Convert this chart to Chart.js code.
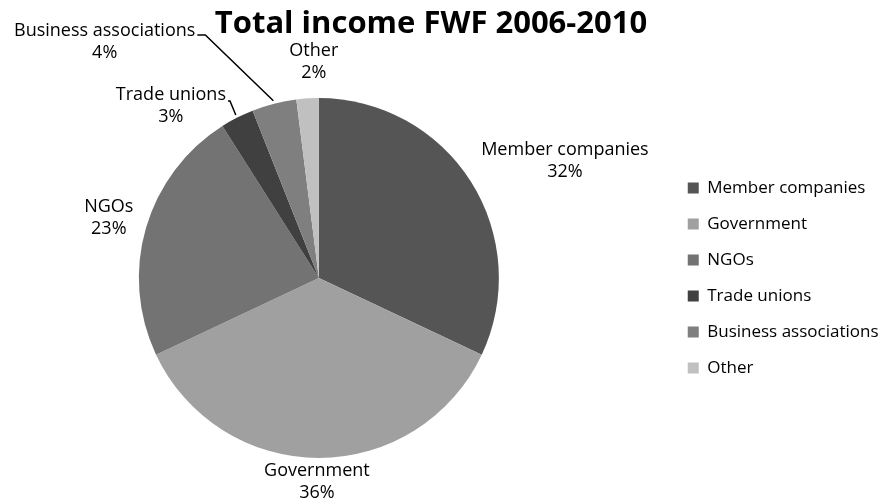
<!DOCTYPE html>
<html><head><meta charset="utf-8">
<script src="https://cdn.jsdelivr.net/npm/chart.js@4/dist/chart.umd.min.js"></script>
<style>html,body{margin:0;padding:0;background:#fff;}</style>
</head><body>
<canvas id="c" width="890" height="504"></canvas>
<script>
// ---- data ----
const categories = ['Member companies', 'Government', 'NGOs', 'Trade unions', 'Business associations', 'Other'];
const shares = [32, 36, 23, 3, 4, 2];
const sliceColors = ['#555555', '#a0a0a0', '#737373', '#404040', '#7f7f7f', '#c0c0c0'];
const titleText = 'Total income FWF 2006-2010';

// ---- label placement (style): offset of label block from pie centre, in radius units ----
const labelPlacement = [
  {dx: 1.367, dy: -0.650, leader: false},
  {dx: -0.011, dy: 1.133, leader: false},
  {dx: -1.167, dy: -0.333, leader: false},
  {dx: -0.822, dy: -0.956, leader: true, tick: 2, lift: 6},
  {dx: -1.19, dy: -1.314, leader: true, tick: 8, lift: 4.5},
  {dx: -0.028, dy: -1.200, leader: false}
];

const FONT = '"Open Sans", "DejaVu Sans", sans-serif';

// layout nudges (style)
const legendShiftX = 26.5;
const plotRightTrim = 4.5;

const layoutNudge = {
  id: 'layoutNudge',
  afterLayout(chart) {
    const L = chart.legend;
    if (L) { L.left += legendShiftX; L.right += legendShiftX; }
    chart.chartArea.right -= plotRightTrim;
    chart.chartArea.width -= plotRightTrim;
  }
};

const pieLabels = {
  id: 'pieLabels',
  afterDatasetsDraw(chart) {
    const ctx = chart.ctx;
    const meta = chart.getDatasetMeta(0);
    const data = chart.data.datasets[0].data;
    const total = data.reduce((a, b) => a + b, 0);
    ctx.save();
    ctx.font = '18px ' + FONT;
    ctx.fillStyle = '#000';
    ctx.textAlign = 'center';
    ctx.textBaseline = 'middle';
    meta.data.forEach((arc, i) => {
      const p = arc.getProps(['x', 'y', 'startAngle', 'endAngle', 'outerRadius'], true);
      const R = p.outerRadius;
      const lp = labelPlacement[i];
      const cx = p.x + lp.dx * R, cy = p.y + lp.dy * R;
      const name = chart.data.labels[i];
      const pct = Math.round(data[i] / total * 100) + '%';
      ctx.fillText(name, cx, cy - 11);
      ctx.fillText(pct, cx, cy + 11);
      if (lp.leader) {
        const w = ctx.measureText(name).width;
        const sx = cx + w / 2 + 2, sy = cy - 11 + lp.lift;
        const mid = (p.startAngle + p.endAngle) / 2;
        const ex = p.x + Math.cos(mid) * (R + 3), ey = p.y + Math.sin(mid) * (R + 3);
        ctx.beginPath();
        ctx.moveTo(sx, sy);
        ctx.lineTo(sx + lp.tick, sy);
        ctx.lineTo(ex, ey);
        ctx.strokeStyle = '#000';
        ctx.lineWidth = 1.5;
        ctx.stroke();
      }
    });
    ctx.restore();
  }
};

new Chart(document.getElementById('c'), {
  type: 'pie',
  data: {
    labels: categories,
    datasets: [{
      data: shares,
      backgroundColor: sliceColors,
      borderWidth: 0
    }]
  },
  options: {
    responsive: false,
    devicePixelRatio: 1,
    animation: false,
    layout: {padding: {left: 0, right: 28, top: 0, bottom: 46}},
    plugins: {
      title: {
        display: true,
        text: titleText,
        color: '#000',
        font: {family: FONT, size: 31, weight: 'bold', lineHeight: 1.2},
        padding: {top: 6, bottom: 54.8}
      },
      legend: {
        position: 'right',
        fullSize: false,
        labels: {
          color: '#000',
          font: {family: FONT, size: 17},
          boxWidth: 11,
          boxHeight: 11,
          padding: 19
        }
      },
      tooltip: {enabled: false}
    }
  },
  plugins: [layoutNudge, pieLabels]
});
</script>
</body></html>
